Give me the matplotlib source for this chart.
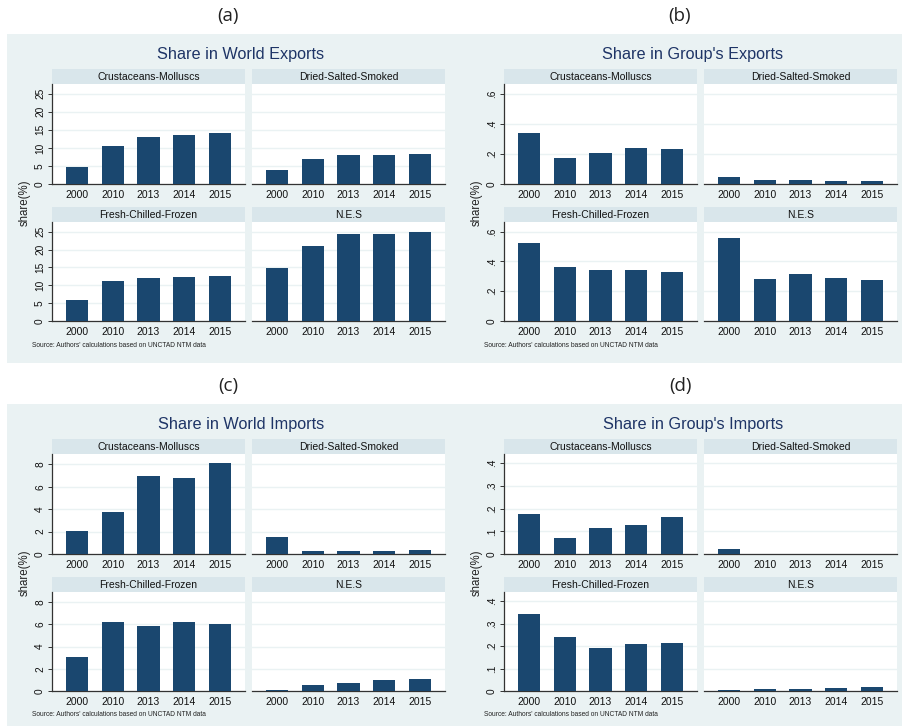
import numpy as np
import matplotlib
matplotlib.use("Agg")
import matplotlib.pyplot as plt
from matplotlib.patches import Rectangle

plt.rcParams['font.family'] = ['Liberation Sans', 'DejaVu Sans']

W, H = 902, 727

years = ['2000', '2010', '2013', '2014', '2015']
groups = ['Crustaceans-Molluscs', 'Dried-Salted-Smoked', 'Fresh-Chilled-Frozen', 'N.E.S']

# (a) share in world exports
world_exp = {
    'Crustaceans-Molluscs': [4.8, 10.4, 13.1, 13.6, 14.0],
    'Dried-Salted-Smoked': [4.0, 7.0, 8.1, 8.1, 8.3],
    'Fresh-Chilled-Frozen': [6.0, 11.1, 11.9, 12.2, 12.5],
    'N.E.S': [14.8, 20.9, 24.4, 24.3, 25.0],
}
# (b) share in group's exports
group_exp = {
    'Crustaceans-Molluscs': [0.34, 0.17, 0.205, 0.24, 0.235],
    'Dried-Salted-Smoked': [0.045, 0.025, 0.025, 0.022, 0.022],
    'Fresh-Chilled-Frozen': [0.525, 0.365, 0.34, 0.345, 0.33],
    'N.E.S': [0.56, 0.28, 0.315, 0.29, 0.275],
}
# (c) share in world imports
world_imp = {
    'Crustaceans-Molluscs': [2.05, 3.75, 7.0, 6.8, 8.15],
    'Dried-Salted-Smoked': [1.5, 0.3, 0.3, 0.25, 0.4],
    'Fresh-Chilled-Frozen': [3.1, 6.2, 5.9, 6.25, 6.05],
    'N.E.S': [0.05, 0.5, 0.75, 0.95, 1.05],
}
# (d) share in group's imports
group_imp = {
    'Crustaceans-Molluscs': [0.175, 0.07, 0.115, 0.128, 0.162],
    'Dried-Salted-Smoked': [0.02, 0.0005, 0.0005, 0.0005, 0.0005],
    'Fresh-Chilled-Frozen': [0.345, 0.24, 0.192, 0.21, 0.215],
    'N.E.S': [0.003, 0.007, 0.011, 0.013, 0.016],
}

ticks_a = [0, 5, 10, 15, 20, 25]
labels_a = ['0', '5', '10', '15', '20', '25']
ticks_b = [0, 0.2, 0.4, 0.6]
labels_b = ['0', '.2', '.4', '.6']
ticks_c = [0, 2, 4, 6, 8]
labels_c = ['0', '2', '4', '6', '8']
ticks_d = [0, 0.1, 0.2, 0.3, 0.4]
labels_d = ['0', '.1', '.2', '.3', '.4']

panels = [
    ('(a)', 'Share in World Exports', world_exp, ticks_a, labels_a, 27.7, 0, 0),
    ('(b)', "Share in Group's Exports", group_exp, ticks_b, labels_b, 0.665, 452, 0),
    ('(c)', 'Share in World Imports', world_imp, ticks_c, labels_c, 8.93, 0, 370),
    ('(d)', "Share in Group's Imports", group_imp, ticks_d, labels_d, 0.441, 452, 370),
]

BAR = '#1a476f'
BG = '#eaf2f3'
STRIP = '#d9e6eb'
TITLE = '#1e3466'


def rect(x0, y0, x1, y1):
    return [x0 / W, 1 - y1 / H, (x1 - x0) / W, (y1 - y0) / H]


fig = plt.figure(figsize=(W / 100, H / 100), dpi=100)
fig.patch.set_facecolor('white')

# panel backgrounds (one band per row)
for y0, y1 in [(34, 363), (404, 726)]:
    fig.patches.append(Rectangle((7 / W, 1 - y1 / H), (W - 7) / W, (y1 - y0) / H,
                                 transform=fig.transFigure, facecolor=BG,
                                 edgecolor='none', zorder=-5))

# subplot positions within panel (a); others are offset
cols = [(52, 245), (252, 445)]
rows = [(69, 84, 184), (207, 222, 321)]

for tag, title, data, ticks, tlabels, ytop, dx, dy in panels:
    fig.text((228 + dx) / W, 1 - (16 + dy) / H, tag, ha='center', va='center',
             fontsize=13.5, family=['Open Sans', 'DejaVu Sans'], color='#222222')
    fig.text((241 + dx) / W, 1 - (55 + dy) / H, title, ha='center',
             va='center', fontsize=11.7, color=TITLE)
    fig.text((25 + dx) / W, 1 - (203 + dy) / H, 'share(%)', rotation=90,
             ha='center', va='center', fontsize=8.3, color='#222222')
    fig.text((32 + dx) / W, 1 - (345 + dy) / H,
             "Source: Authors' calculations based on UNCTAD NTM data",
             ha='left', va='center', fontsize=4.8, color='#222222')

    for i, g in enumerate(groups):
        r, c = divmod(i, 2)
        x0, x1 = cols[c]
        s0, s1, b1 = rows[r]
        # strip header
        sax = fig.add_axes(rect(x0 + dx, s0 + dy, x1 + dx, s1 + dy))
        sax.set_facecolor(STRIP)
        sax.set_xticks([])
        sax.set_yticks([])
        for sp in sax.spines.values():
            sp.set_visible(False)
        sax.text(0.5, 0.5, g, ha='center', va='center', fontsize=7.5, color='#111111',
                 transform=sax.transAxes)

        ax = fig.add_axes(rect(x0 + dx, s1 + dy, x1 + dx, b1 + dy))
        ax.set_facecolor('white')
        xs = np.arange(len(years))
        ax.bar(xs, data[g], width=0.62, color=BAR, edgecolor='none', zorder=3)
        ax.set_xlim(-0.7, len(years) - 0.3)
        ax.set_ylim(0, ytop)
        ax.set_xticks(xs)
        ax.set_xticklabels(years, fontsize=7.5, color='#111111')
        ax.tick_params(axis='x', length=0, pad=4)
        for sp in ['top', 'right']:
            ax.spines[sp].set_visible(False)
        ax.spines['bottom'].set_color('#333333')
        ax.spines['bottom'].set_linewidth(0.9)
        ax.set_yticks(ticks)
        ax.grid(axis='y', color=BG, linewidth=1.0, zorder=0)
        if c == 0:
            ax.spines['left'].set_color('#333333')
            ax.spines['left'].set_linewidth(0.9)
            ax.set_yticklabels(tlabels, fontsize=7.3, rotation=90, va='center',
                               color='#111111')
            ax.tick_params(axis='y', length=3, width=0.7, color='#333333', pad=2)
        else:
            ax.spines['left'].set_visible(False)
            ax.set_yticklabels([])
            ax.tick_params(axis='y', length=0)

fig.savefig('out.png', dpi=100, facecolor='white')
